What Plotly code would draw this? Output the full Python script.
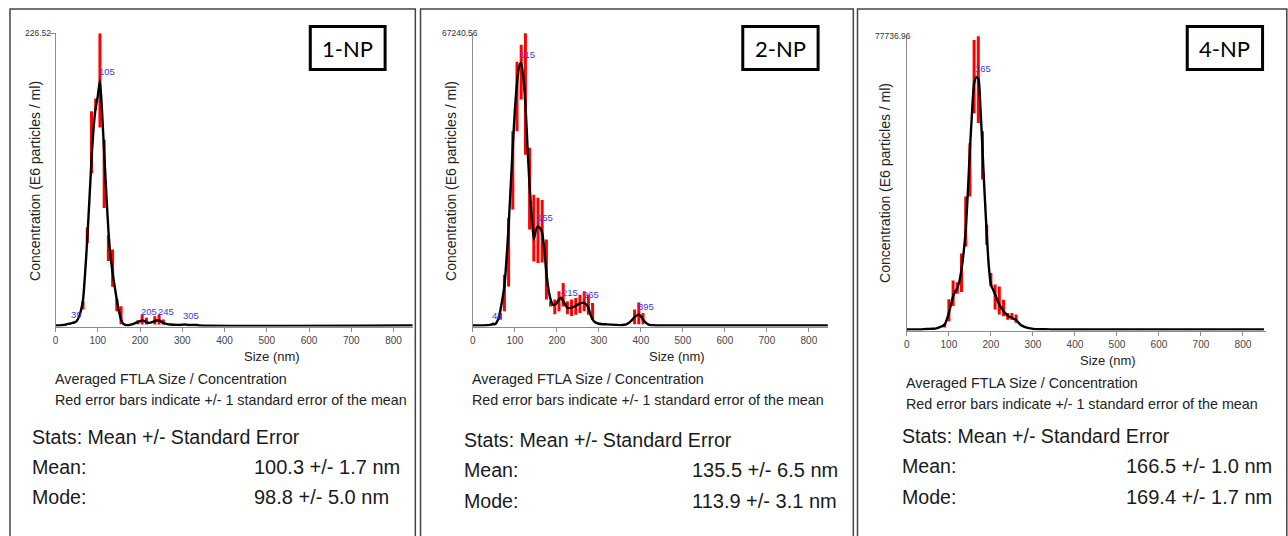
import numpy as np
import plotly.graph_objects as go

W, H = 1288, 536

# ---------------- DATA ----------------
# Panel 1-NP : averaged curve (size nm, concentration E6/ml)
np1_size = [0, 10, 15, 20, 25, 30, 35, 40, 45, 50, 55, 60, 65, 70, 75, 80, 85, 90, 95, 100,
            105, 110, 115, 120, 125, 130, 135, 140, 145, 150, 155, 160, 165, 170, 175, 180,
            185, 190, 195, 200, 205, 210, 215, 220, 225, 230, 235, 240, 245, 250, 255, 260,
            265, 270, 280, 290, 300, 305, 310, 320, 335, 340, 850]
np1_conc = [0, 0, 0.3, 0.5, 0.8, 1.2, 1.5, 2.0, 2.4, 3.5, 6.5, 11.5, 20, 41, 67, 97, 128, 153, 169, 178,
            190, 166, 134, 103, 74, 54, 41, 30, 20, 11, 4.6, 1.5, 0.5, 0.2, 0.4, 0.8,
            1.4, 2.0, 2.8, 3.4, 4.0, 3.5, 2.6, 2.1, 2.2, 2.8, 3.5, 3.9, 4.0, 3.0, 2.1, 1.5,
            1.1, 0.8, 0.6, 0.5, 0.6, 0.8, 0.6, 0.4, 0.35, 0, 0]
np1_bar_size = [65, 75, 85, 95, 105, 115, 125, 135, 145, 155, 195, 205, 215, 235, 245, 255]
np1_bar_conc = [15.6, 70, 142, 171.5, 190, 117.5, 60, 44.5, 16, 8, 2.5, 4.6, 3.4, 4.0, 4.6, 2.7]
np1_bar_err = [3.2, 6, 24, 4.5, 36.5, 26.5, 10, 14.5, 5, 7, 1.5, 3.9, 2.6, 3.2, 3.9, 2.0]
np1_peaks = [39, 105, 205, 245, 305]
np1_ymax = 226.52
np1_mean = "100.3 +/- 1.7 nm"
np1_mode = "98.8 +/- 5.0 nm"

# Panel 2-NP
np2_size = [0, 25, 30, 40, 45, 48, 52, 55, 60, 65, 70, 75, 80, 85, 90, 95, 100, 105, 110, 115,
            120, 125, 130, 135, 140, 145, 150, 155, 160, 165, 170, 175, 180, 185, 190, 195,
            200, 205, 210, 215, 220, 225, 230, 235, 240, 245, 250, 255, 260, 265, 270, 275,
            280, 285, 290, 300, 320, 340, 355, 365, 370, 375, 380, 385, 390, 395, 400, 405,
            410, 415, 420, 430, 440, 850]
np2_conc = [0, 0, 50, 150, 250, 400, 300, 500, 1400, 3300, 6000, 9000, 15200, 22800, 32000, 41200,
            49600, 55700, 59600, 60400, 57300, 51100, 41200, 32000, 25100, 19800, 22000, 22800,
            22400, 21300, 17500, 12100, 8300, 6000, 4800, 4800, 5200, 6000, 6400, 5600, 4800,
            4100, 4000, 4100, 4300, 4500, 4800, 5100, 5200, 5200, 4800, 4100, 2500, 1400, 800,
            400, 250, 150, 100, 250, 500, 900, 1400, 1900, 2300, 2500, 2100, 1400, 800, 400,
            150, 50, 0, 0]
np2_bar_size = [48, 65, 75, 85, 95, 105, 115, 125, 135, 145, 155, 165, 175, 185, 195, 205, 215,
                225, 235, 245, 255, 265, 275, 285, 385, 395, 405]
np2_bar_conc = [300, 2100, 7500, 16900, 35700, 52700, 58300, 53300, 31500, 22400, 21900, 21700,
                12900, 5000, 4300, 5600, 7100, 4100, 4100, 4400, 5000, 5600, 4800, 3300, 2000,
                2800, 1600]
np2_bar_err = [300, 800, 4200, 7900, 9000, 8000, 6300, 14000, 9400, 7700, 7500, 7200, 6900, 600,
               1700, 2300, 2700, 1500, 1900, 1900, 2100, 2300, 2300, 1900, 1700, 2500, 1300]
np2_peaks = [48, 115, 155, 215, 265, 395]
np2_ymax = 67240.56
np2_mean = "135.5 +/- 6.5 nm"
np2_mode = "113.9 +/- 3.1 nm"

# Panel 4-NP
np3_size = [0, 35, 40, 50, 60, 70, 80, 85, 90, 95, 100, 105, 110, 115, 120, 125, 130, 135, 140,
            145, 150, 155, 160, 165, 170, 175, 180, 185, 190, 195, 200, 205, 210, 215, 220, 225,
            230, 235, 240, 245, 250, 255, 260, 265, 270, 275, 280, 290, 300, 320, 340, 350, 850]
np3_conc = [0, 0, 100, 150, 200, 300, 700, 950, 1300, 2600, 4400, 6600, 8800, 10100, 11000, 12800,
            15900, 20300, 26400, 36100, 47600, 57300, 65200, 66800, 66500, 59000, 47600, 36100,
            25600, 16800, 11900, 10600, 9300, 7900, 6600, 5700, 4900, 4200, 3700, 3300, 3100,
            2800, 2500, 1900, 1300, 950, 700, 350, 180, 80, 30, 0, 0]
np3_bar_size = [90, 100, 110, 120, 130, 140, 150, 160, 170, 180, 190, 200, 210, 220, 230, 240, 250, 260]
np3_bar_conc = [1000, 5100, 9600, 11000, 15000, 28600, 42300, 67000, 66200, 46100, 25100, 13200,
                8600, 7700, 5700, 3500, 3500, 2900]
np3_bar_err = [500, 2900, 3400, 1500, 5100, 6600, 7050, 9700, 11500, 6400, 2650, 1760, 3300, 3700,
               2200, 900, 900, 1100]
np3_peaks = [165]
np3_ymax = 77736.96
np3_mean = "166.5 +/- 1.0 nm"
np3_mode = "169.4 +/- 1.7 nm"

names = ["1-NP", "2-NP", "4-NP"]
x_ticks = [0, 100, 200, 300, 400, 500, 600, 700, 800]
line1 = "Averaged FTLA Size / Concentration"
line2 = "Red error bars indicate +/- 1 standard error of the mean"
stats_title = "Stats: Mean +/- Standard Error"
y_title = "Concentration (E6 particles / ml)"
x_title = "Size (nm)"

data = [
    (np1_size, np1_conc, np1_bar_size, np1_bar_conc, np1_bar_err, np1_peaks, np1_ymax, np1_mean, np1_mode),
    (np2_size, np2_conc, np2_bar_size, np2_bar_conc, np2_bar_err, np2_peaks, np2_ymax, np2_mean, np2_mode),
    (np3_size, np3_conc, np3_bar_size, np3_bar_conc, np3_bar_err, np3_peaks, np3_ymax, np3_mean, np3_mode),
]

# ---------------- LAYOUT (pixel geometry) ----------------
geo = [
    dict(x0=52.7, x1=410.5, xmax=845, y0=325.5, yt=33.3,
         fx=(7, 413.3), box=(308, 383), topr=48, ytx=(32, 181), xtx=(270, 356),
         txt_x=53, txt_y=(379, 400), st_x=30, val_x=253, st_y=(436.7, 466.7, 496.7)),
    dict(x0=471, x1=826.7, xmax=845, y0=325.5, yt=33.3,
         fx=(418.5, 852.3), box=(741.5, 817), topr=476, ytx=(449, 181), xtx=(676, 356),
         txt_x=471, txt_y=(379, 400), st_x=463, val_x=692, st_y=(440, 470, 501)),
    dict(x0=906, x1=1266, xmax=855, y0=329.5, yt=36,
         fx=(856.5, 1286.8), box=(1187, 1262.5), topr=910, ytx=(884, 183), xtx=(1108, 360),
         txt_x=906, txt_y=(383, 404), st_x=902, val_x=1127, st_y=(436, 466, 497)),
]

FONT = "Liberation Sans, Arial, sans-serif"
px = lambda x: x / W
py = lambda y: 1 - y / H
XS = -3  # compensate annotation padding for left-anchored text

fig = go.Figure()
annotations = []
shapes = []
layout = {}

for i, (g, d) in enumerate(zip(geo, data)):
    size, conc, bsize, bconc, berr, peaks, ymax, mean_s, mode_s = d
    k = "" if i == 0 else str(i + 1)
    xa, ya = "x" + k, "y" + k
    ppx = ymax / (g["y0"] - g["yt"])  # units per pixel

    fig.add_trace(go.Scatter(
        x=bsize, y=bconc, mode="markers", xaxis=xa, yaxis=ya,
        marker=dict(size=1, color="#ff0000"),
        error_y=dict(type="data", array=berr, color="#ff0000", thickness=3, width=0),
        hoverinfo="skip", showlegend=False))
    fig.add_trace(go.Scatter(
        x=size, y=conc, mode="lines", xaxis=xa, yaxis=ya,
        line=dict(color="black", width=2.4, shape="spline", smoothing=0.6),
        hoverinfo="skip", showlegend=False))

    layout["xaxis" + k] = dict(
        domain=[px(g["x0"]), px(g["x1"])], range=[0, g["xmax"]], anchor=ya,
        showline=True, linecolor="#8c8c8c", linewidth=1, showgrid=False, zeroline=False,
        ticks="outside", ticklen=4, tickcolor="#8c8c8c", tickvals=x_ticks,
        tickfont=dict(family=FONT, size=10, color="#444"), fixedrange=True)
    layout["yaxis" + k] = dict(
        domain=[py(g["y0"] + 1), py(g["yt"])], range=[-ppx, ymax], anchor=xa,
        showline=True, linecolor="#8c8c8c", linewidth=1, showgrid=False, zeroline=False,
        ticks="outside" if i == 0 else "", ticklen=5, tickcolor="#8c8c8c",
        tickvals=[ymax], showticklabels=False, fixedrange=True)

    # peak labels
    for pk in peaks:
        annotations.append(dict(
            x=pk, y=float(np.interp(pk, size, conc)), xref=xa, yref=ya,
            text=str(pk), showarrow=False, xanchor="left", yanchor="bottom",
            xshift=XS, yshift=1,
            font=dict(family=FONT, size=9.5, color="#3838f0")))

    # top value label
    annotations.append(dict(
        x=px(g["topr"]), y=py(g["yt"]), xref="paper", yref="paper",
        text=f"{ymax:.2f}", showarrow=False, xanchor="right", yanchor="middle",
        xshift=2, font=dict(family=FONT, size=8.5, color="#333")))
    # axis titles
    annotations.append(dict(
        x=px(g["ytx"][0]), y=py(g["ytx"][1]), xref="paper", yref="paper",
        text=y_title, textangle=-90, showarrow=False, xanchor="center", yanchor="middle",
        font=dict(family=FONT, size=14, color="#222")))
    annotations.append(dict(
        x=px(g["xtx"][0]), y=py(g["xtx"][1]), xref="paper", yref="paper",
        text=x_title, showarrow=False, xanchor="center", yanchor="middle",
        font=dict(family=FONT, size=13, color="#222")))

    # text block
    for txt, yy in zip([line1, line2], g["txt_y"]):
        annotations.append(dict(
            x=px(g["txt_x"]), y=py(yy), xref="paper", yref="paper", text=txt,
            showarrow=False, xanchor="left", yanchor="middle", xshift=XS,
            font=dict(family=FONT, size=14.3, color="#222")))
    for txt, xx, yy, fs in [(stats_title, g["st_x"], g["st_y"][0], 19.6),
                            ("Mean:", g["st_x"], g["st_y"][1], 19.6),
                            (mean_s, g["val_x"], g["st_y"][1], 20),
                            ("Mode:", g["st_x"], g["st_y"][2], 19.6),
                            (mode_s, g["val_x"], g["st_y"][2], 20)]:
        annotations.append(dict(
            x=px(xx), y=py(yy), xref="paper", yref="paper", text=txt,
            showarrow=False, xanchor="left", yanchor="middle", xshift=XS,
            font=dict(family=FONT, size=fs, color="#1a1a1a")))

    # panel frame
    shapes.append(dict(type="rect", xref="paper", yref="paper",
                       x0=px(g["fx"][0]), x1=px(g["fx"][1]), y0=py(9), y1=py(600),
                       line=dict(color="#444", width=1.5), fillcolor="rgba(0,0,0,0)", layer="below"))
    # name box
    shapes.append(dict(type="rect", xref="paper", yref="paper",
                       x0=px(g["box"][0]), x1=px(g["box"][1]), y0=py(26.5), y1=py(69.5),
                       line=dict(color="black", width=3), fillcolor="white"))
    annotations.append(dict(
        x=px((g["box"][0] + g["box"][1]) / 2), y=py(48), xref="paper", yref="paper",
        text=names[i], showarrow=False, xanchor="center", yanchor="middle",
        font=dict(family="Lato, Open Sans, sans-serif", size=22, color="black")))

fig.update_layout(
    width=W, height=H, margin=dict(l=0, r=0, t=0, b=0),
    paper_bgcolor="white", plot_bgcolor="white",
    annotations=annotations, shapes=shapes, showlegend=False, **layout)

fig.write_html("out.html", config={"displayModeBar": False},
               post_script="document.body.style.margin='0';document.body.style.overflow='hidden';")
